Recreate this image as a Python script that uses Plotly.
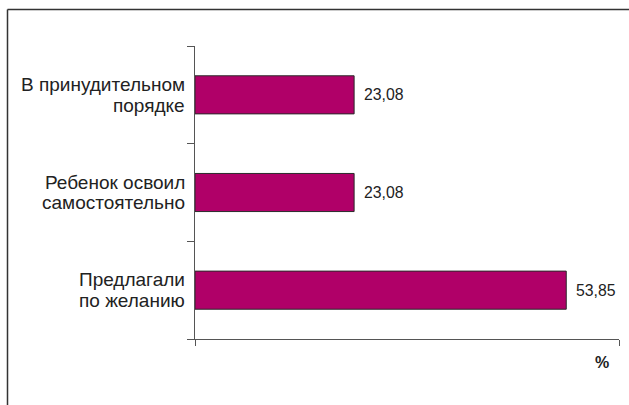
import plotly.graph_objects as go

categories = ["Предлагали<br>по желанию", "Ребенок освоил<br>самостоятельно", "В принудительном<br>порядке"]
values = [53.85, 23.08, 23.08]
value_labels = ["53,85", "23,08", "23,08"]
x_max = 61.5
unit_label = "%"

W, H = 629, 405
L, R, T, B = 195, 10, 46, 66
pw, ph = W - L - R, H - T - B

def px_x(p):
    return (p - L) / pw

def px_y(p):
    return (H - B - p) / ph

fig = go.Figure(go.Bar(
    x=values, y=categories, orientation="h",
    marker=dict(color="#B00068", line=dict(color="#2b2b2b", width=1)),
    width=0.39, hoverinfo="skip",
))

for v, c, t in zip(values, categories, value_labels):
    fig.add_annotation(x=v, y=c, text=t, showarrow=False, xanchor="left",
                       xshift=8, yshift=0, font=dict(size=15.8, color="#222"))

# category labels, two lines each, tighter line spacing than plotly's default
for c in categories:
    lines = c.split("<br>")
    n = len(lines)
    for i, ln in enumerate(lines):
        fig.add_annotation(x=px_x(187), xref="paper", y=c, yref="y", text=ln,
                           showarrow=False, xanchor="right", yanchor="middle",
                           yshift=(n - 1) / 2 * 20.5 - i * 20.5,
                           font=dict(size=19, color="#222"))

fig.add_annotation(x=px_x(602), y=px_y(362), xref="paper", yref="paper",
                   text="<b>" + unit_label + "</b>", showarrow=False,
                   xanchor="center", yanchor="middle",
                   font=dict(size=16, color="#222"))

frame = dict(color="#333", width=1.5)
fig.add_shape(type="line", xref="paper", yref="paper",
              x0=px_x(7.5), x1=px_x(640), y0=px_y(9.5), y1=px_y(9.5), line=frame)
fig.add_shape(type="line", xref="paper", yref="paper",
              x0=px_x(7.5), x1=px_x(7.5), y0=px_y(9.5), y1=px_y(420), line=frame)

fig.update_layout(
    width=W, height=H, margin=dict(l=L, r=R, t=T, b=B),
    paper_bgcolor="white", plot_bgcolor="white", showlegend=False,
    font=dict(family="Liberation Sans, Arial, sans-serif", size=16, color="#222"),
    xaxis=dict(range=[0, x_max], showgrid=False, zeroline=False, showline=True,
               linecolor="#555", linewidth=1.2, ticks="outside", ticklen=6,
               tickcolor="#555", tickwidth=1.2, tickvals=[0, x_max],
               showticklabels=False, fixedrange=True),
    yaxis=dict(showgrid=False, zeroline=False, showline=True, linecolor="#555",
               linewidth=1.2, ticks="outside", ticklen=7, tickcolor="#555",
               tickwidth=1.2, tickson="boundaries", showticklabels=False,
               fixedrange=True),
)

fig.write_html("out.html", config={"displayModeBar": False},
               post_script="document.body.style.margin='0';document.body.style.overflow='hidden';")
